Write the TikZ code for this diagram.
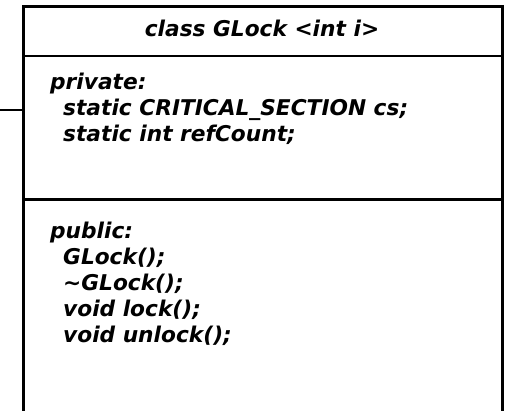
\documentclass[tikz,border=0pt]{standalone}
\usepackage{fontspec}
\newfontfamily\umlfont{DejaVu Sans}
\begin{document}
\begin{tikzpicture}[x=1pt,y=-1pt,line join=miter,
  box/.style={draw,line width=3pt,inner sep=0pt,outer sep=0pt},
  member/.style={anchor=base west,align=left,inner sep=0pt,
    font=\umlfont\bfseries\itshape\fontsize{21.7}{26}\selectfont}]
  \useasboundingbox (0,0) rectangle (508,411);
  \clip (0,0) rectangle (508,411);
  % class box, runs past the lower edge
  \node[box,minimum width=479pt,minimum height=440pt,anchor=north west] (glock) at (23,7) {};
  \draw[line width=2pt] (glock.west |- 0,56) -- (glock.east |- 0,56);
  \draw[line width=3pt] (glock.west |- 0,200) -- (glock.east |- 0,200);
  \node[member,anchor=base] (title) at (262,37) {class GLock <int i>};
  % base anchor sits on the last line
  \node[member] (priv) at (50,142) {private:\\
    \hspace*{13pt}static CRITICAL\_SECTION cs;\\
    \hspace*{13pt}static int refCount;};
  \node[member] (pub) at (50,342) {public:\\
    \hspace*{13pt}GLock();\\
    \hspace*{13pt}\textasciitilde GLock();\\
    \hspace*{13pt}void lock();\\
    \hspace*{13pt}void unlock();};
  % link coming in from the left
  \coordinate (stub) at (0,110);
  \draw[line width=1.2pt] (stub) -- (stub -| glock.west);
\end{tikzpicture}
\end{document}
